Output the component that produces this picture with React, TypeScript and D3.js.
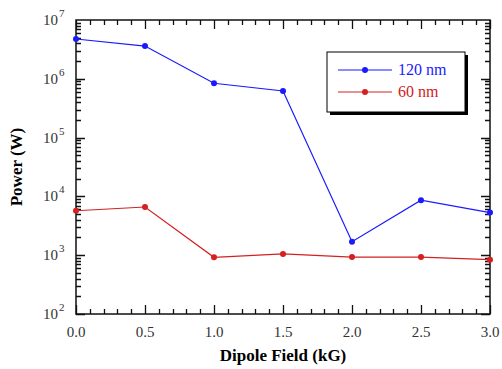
import React from "react";
import * as d3 from "d3";

const fields = [0, 0.5, 1.0, 1.5, 2.0, 2.5, 3.0];
const power120 = [4.75e6, 3.6e6, 8.4e5, 6.2e5, 1.7e3, 8.6e3, 5.3e3];
const power60 = [5.7e3, 6.6e3, 9.2e2, 1.05e3, 9.3e2, 9.3e2, 8.4e2];
const xTicks = [0, 0.5, 1.0, 1.5, 2.0, 2.5, 3.0];
const yExponents = [2, 3, 4, 5, 6, 7];

const seriesNames = ["120 nm", "60 nm"];
const seriesColors = ["#1a1aff", "#d42020"];

const left = 76, right = 490, top = 20, bottom = 314;
const font = "'Liberation Serif', 'DejaVu Serif', serif";

export default function App() {
  const x = d3.scaleLinear().domain([0, 3]).range([left, right]);
  const y = d3.scaleLog().domain([1e2, 1e7]).range([bottom, top]);

  // inward ticks on all four sides
  let tickPath = "";
  d3.range(0, 31).forEach(i => {
    const len = i % 5 === 0 ? 9 : 5;
    const px = Math.round(x(i / 10)) + 0.5;
    tickPath += `M${px},${bottom}V${bottom - len}M${px},${top}V${top + len}`;
  });
  for (let e = 2; e < 7; e++) {
    for (let m = 1; m <= 9; m++) {
      const len = m === 1 ? 9 : 5;
      const py = Math.round(y(m * Math.pow(10, e))) + 0.5;
      tickPath += `M${left},${py}H${left + len}M${right},${py}H${right - len}`;
    }
  }

  const line = d3.line<[number, number]>().x(d => x(d[0])).y(d => y(d[1]));
  const series = [power120, power60].map(vals =>
    fields.map((f, i) => [f, vals[i]] as [number, number]));

  const lx = 327, ly = 52, lw = 138, lh = 60;

  return (
    <svg width={502} height={369}
      style={{ position: "absolute", left: 0, top: 0, background: "#fff" }}
      fontFamily={font}>
      <path d={tickPath} stroke="#111" strokeWidth={1.3} fill="none" />
      <rect x={left} y={top} width={right - left} height={bottom - top}
        fill="none" stroke="#111" strokeWidth={1.5} />

      {xTicks.map(d => (
        <text key={d} x={x(d)} y={337} textAnchor="middle" fontSize={15} fill="#333">
          {d.toFixed(1)}
        </text>
      ))}
      {yExponents.map(e => (
        <g key={e}>
          <text x={58} y={y(Math.pow(10, e)) + 5} textAnchor="end" fontSize={15} fill="#333">10</text>
          <text x={59} y={y(Math.pow(10, e)) - 3} fontSize={11} fill="#333">{e}</text>
        </g>
      ))}

      <text x={(left + right) / 2} y={361} textAnchor="middle" fontSize={17} fontWeight="bold">
        Dipole Field (kG)
      </text>
      <text transform={`translate(22,${(top + bottom) / 2}) rotate(-90)`} textAnchor="middle"
        fontSize={17} fontWeight="bold">
        Power (W)
      </text>

      {series.map((pts, si) => (
        <g key={si}>
          <path d={line(pts) ?? ""} fill="none" stroke={seriesColors[si]} strokeWidth={1.2} />
          {pts.map((p, i) => (
            <circle key={i} cx={x(p[0])} cy={y(p[1])} r={3} fill={seriesColors[si]} />
          ))}
        </g>
      ))}

      <rect x={lx + 3} y={ly + 3} width={lw} height={lh} fill="#000" />
      <rect x={lx} y={ly} width={lw} height={lh} fill="#fff" stroke="#000" strokeWidth={1} />
      {seriesNames.map((name, i) => {
        const yy = 70 + i * 22;
        return (
          <g key={name}>
            <line x1={338} x2={392} y1={yy} y2={yy} stroke={seriesColors[i]} strokeWidth={1.2} />
            <circle cx={365} cy={yy} r={3} fill={seriesColors[i]} />
            <text x={398} y={yy + 5} fontSize={16} fill={seriesColors[i]}>{name}</text>
          </g>
        );
      })}
    </svg>
  );
}
